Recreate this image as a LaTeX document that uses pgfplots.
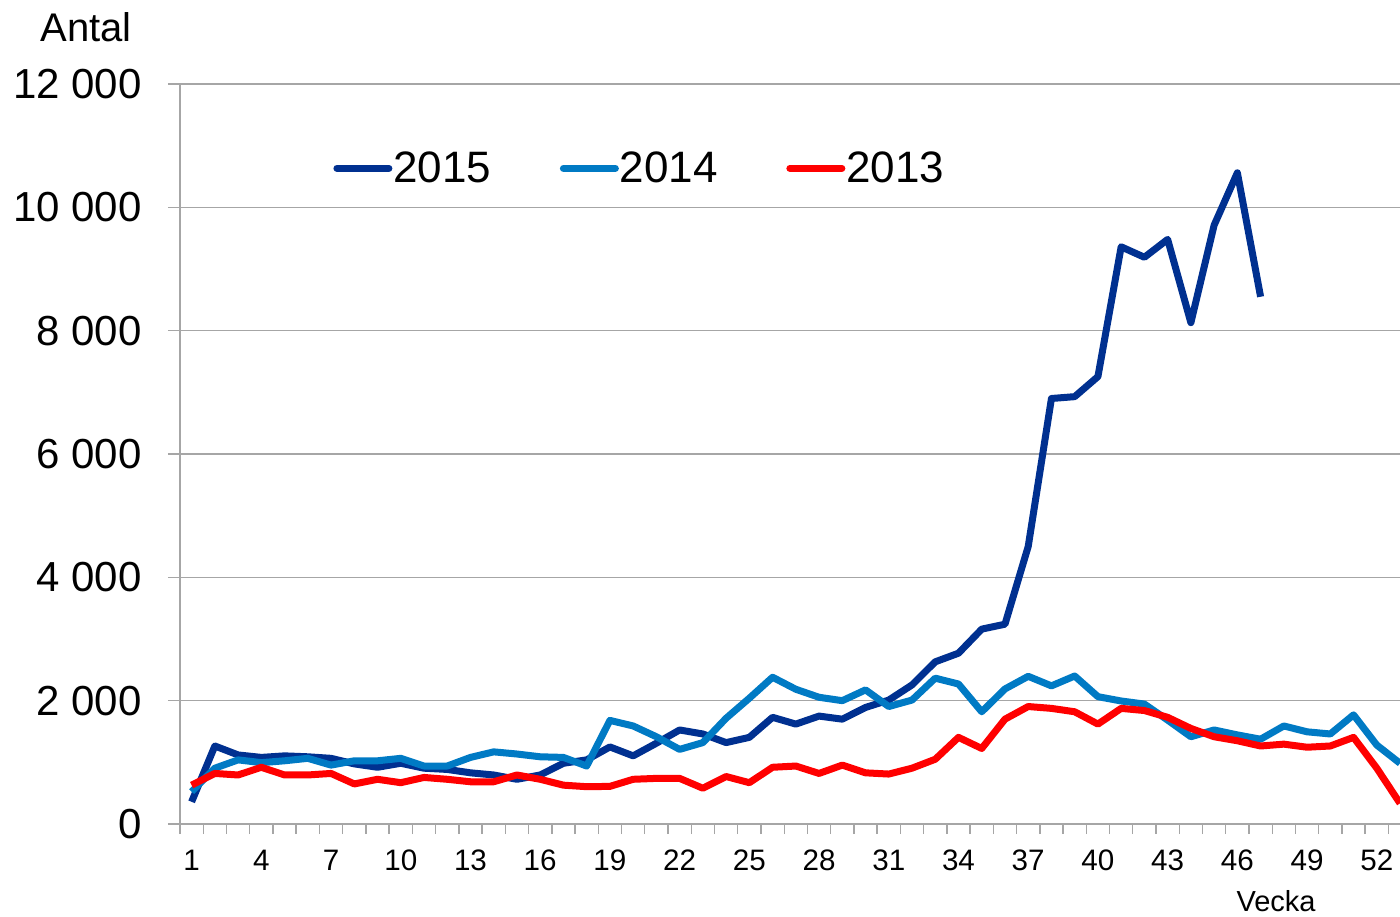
\documentclass[border=0pt]{standalone}
\usepackage{fontspec}
\setmainfont{Liberation Sans}
\usepackage{pgfplots}
\pgfplotsset{compat=1.18}

\definecolor{c2015}{RGB}{0,48,144}
\definecolor{c2014}{RGB}{0,122,196}
\definecolor{c2013}{RGB}{255,0,0}
\definecolor{gridgray}{RGB}{166,166,166}

\begin{document}
\begin{tikzpicture}
\path[use as bounding box] (-90pt,-46pt) rectangle (610pt,412pt);
\begin{axis}[
    at={(0pt,0pt)}, anchor=south west,
    scale only axis,
    width=610pt, height=370pt,
    xmin=0.5, xmax=53,
    ymin=0, ymax=12000,
    clip=true,
    scaled y ticks=false,
    axis x line*=bottom,
    axis y line*=left,
    axis line style={draw=gridgray, line width=0.7pt, -},
    ytick={0,2000,4000,6000,8000,10000,12000},
    yticklabels={0,2 000,4 000,6 000,8 000,10 000,12 000},
    xtick={1,4,...,52},
    minor xtick={0.5,1.5,...,52.5},
    major x tick style={draw=none},
    minor x tick style={draw=gridgray, line width=0.7pt},
    minor tick length=5pt,
    major tick length=6pt,
    y tick style={draw=gridgray, line width=0.7pt},
    tick align=outside,
    ymajorgrids,
    grid style={draw=gridgray, line width=0.7pt},
    yticklabel style={font=\fontsize{21}{25}\selectfont, anchor=east, inner sep=0pt, xshift=-13pt},
    xticklabel style={font=\fontsize{14.8}{17}\selectfont, anchor=base, inner sep=0pt, yshift=-17pt,
        /pgf/number format/assume math mode=true},
    legend style={at={(0.1205,0.886)}, anchor=west, draw=none, fill=none,
        font=\fontsize{22}{26}\selectfont, legend columns=3,
        nodes={inner sep=0.5pt},
        /tikz/every even column/.append style={column sep=33.8pt}},
    legend image code/.code={\draw[#1, line width=3.5pt, line cap=round] (1.75pt,0pt) -- (27.75pt,0pt);},
    every axis plot/.append style={line width=3.5pt, line join=round},
]
\addplot[c2015] coordinates {
(1,360) (2,1265) (3,1120) (4,1080) (5,1105) (6,1090) (7,1065) (8,975) (9,920) (10,985)
(11,905) (12,885) (13,830) (14,795) (15,725) (16,795) (17,985) (18,1040) (19,1250) (20,1105)
(21,1310) (22,1525) (23,1460) (24,1320) (25,1405) (26,1730) (27,1620) (28,1750) (29,1700) (30,1890)
(31,2010) (32,2255) (33,2630) (34,2770) (35,3160) (36,3240) (37,4500) (38,6900) (39,6930) (40,7255)
(41,9360) (42,9190) (43,9480) (44,8130) (45,9710) (46,10560) (47,8550)
};
\addplot[c2014] coordinates {
(1,525) (2,905) (3,1040) (4,995) (5,1025) (6,1065) (7,955) (8,1025) (9,1025) (10,1065)
(11,940) (12,940) (13,1080) (14,1170) (15,1135) (16,1090) (17,1080) (18,940) (19,1680) (20,1590)
(21,1415) (22,1210) (23,1320) (24,1715) (25,2040) (26,2380) (27,2185) (28,2055) (29,2000) (30,2175)
(31,1905) (32,2010) (33,2365) (34,2270) (35,1820) (36,2190) (37,2395) (38,2240) (39,2400) (40,2065)
(41,1995) (42,1945) (43,1685) (44,1415) (45,1525) (46,1445) (47,1375) (48,1590) (49,1495) (50,1460)
(51,1770) (52,1280) (53,985)
};
\addplot[c2013] coordinates {
(1,630) (2,820) (3,795) (4,920) (5,795) (6,795) (7,820) (8,650) (9,725) (10,670)
(11,755) (12,725) (13,685) (14,685) (15,795) (16,725) (17,630) (18,605) (19,610) (20,725)
(21,740) (22,740) (23,580) (24,770) (25,670) (26,920) (27,940) (28,820) (29,955) (30,830)
(31,810) (32,905) (33,1050) (34,1405) (35,1225) (36,1700) (37,1905) (38,1875) (39,1820) (40,1620)
(41,1875) (42,1840) (43,1730) (44,1550) (45,1415) (46,1350) (47,1265) (48,1295) (49,1245) (50,1265)
(51,1405) (52,905) (53,335)
};
\legend{2015,2014,2013}
\end{axis}
\node[anchor=base, inner sep=0pt, font=\fontsize{20}{24}\selectfont] at (-47pt,391pt) {Antal};
\node[anchor=base, inner sep=0pt, font=\fontsize{14.5}{17}\selectfont] at (548pt,-43.5pt) {Vecka};
\end{tikzpicture}
\end{document}
